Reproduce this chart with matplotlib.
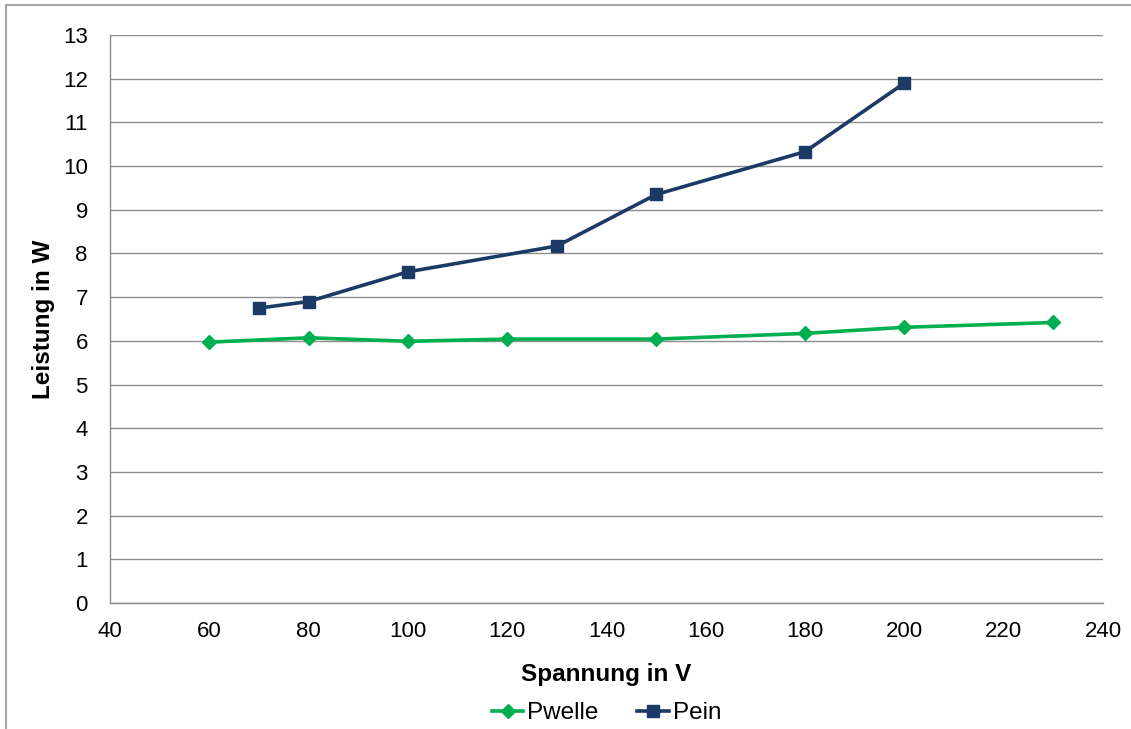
import matplotlib.pyplot as plt
from matplotlib.lines import Line2D

plt.rcParams['font.family'] = ['Liberation Sans', 'DejaVu Sans']

# --- Daten ---
spannung_welle = [60, 80, 100, 120, 150, 180, 200, 230]
p_welle = [5.97, 6.07, 5.99, 6.04, 6.04, 6.17, 6.31, 6.42]

spannung_ein = [70, 80, 100, 130, 150, 180, 200]
p_ein = [6.75, 6.90, 7.58, 8.17, 9.35, 10.33, 11.90]

green = '#00B050'
navy = '#1B3A66'
grid_col = '#8C8C8C'

fig = plt.figure(figsize=(11.31, 7.29), dpi=100)
ax = fig.add_axes([110 / 1131, 1 - 603 / 729, (1103 - 110) / 1131, (603 - 35) / 729])

ax.plot(spannung_welle, p_welle, color=green, lw=2.6, marker='D', ms=7.5,
        label='Pwelle', zorder=3)
ax.plot(spannung_ein, p_ein, color=navy, lw=2.6, marker='s', ms=8.5,
        label='Pein', zorder=4)

ax.set_xlim(40, 240)
ax.set_ylim(0, 13)
ax.set_xticks(range(40, 241, 20))
ax.set_yticks(range(0, 14))
ax.grid(axis='y', color=grid_col, lw=1)
ax.set_axisbelow(True)

for s in ['top', 'right']:
    ax.spines[s].set_visible(False)
for s in ['left', 'bottom']:
    ax.spines[s].set_color(grid_col)
    ax.spines[s].set_linewidth(1)

ax.tick_params(length=0, labelsize=16, colors='black')
ax.tick_params(axis='y', pad=16)
ax.tick_params(axis='x', pad=13)

ax.set_xlabel('Spannung in V', fontsize=17.5, fontweight='bold', labelpad=15)
ax.set_ylabel('Leistung in W', fontsize=17.5, fontweight='bold', labelpad=6)

ax.legend(loc='center', bbox_to_anchor=(0.5, -0.194), ncol=2, frameon=False,
          fontsize=17.5, handlelength=1.3, handletextpad=0.15, columnspacing=1.6,
          borderpad=0)

# äußerer Rahmen (nur oben und links sichtbar)
fig.add_artist(Line2D([6 / 1131, 1], [1 - 5 / 729, 1 - 5 / 729], color='#A6A6A6', lw=1.5))
fig.add_artist(Line2D([6 / 1131, 6 / 1131], [0, 1 - 5 / 729], color='#A6A6A6', lw=1.5))

fig.savefig('out.png', dpi=100)
